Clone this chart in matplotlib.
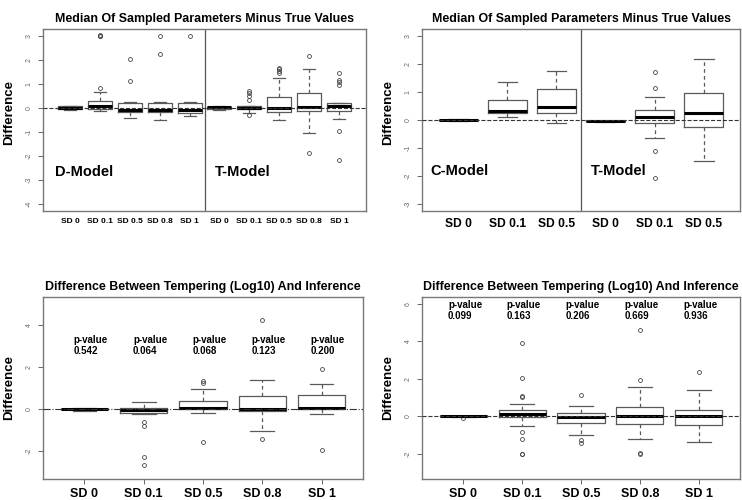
import numpy as np
import matplotlib.pyplot as plt

plt.rcParams['font.family'] = ['Liberation Sans', 'DejaVu Sans']

# -----------------------------
# DATA
# -----------------------------
# top left: D-Model (5 boxes) then T-Model (5 boxes)
p1_labels = ["SD 0", "SD 0.1", "SD 0.5", "SD 0.8", "SD 1"] * 2
p1_q1 = [-0.06, -0.06, -0.17, -0.15, -0.22, -0.03, -0.06, -0.17, -0.11, -0.11]
p1_med = [0.01, 0.08, -0.08, -0.08, -0.08, 0.02, -0.01, 0.01, 0.06, 0.08]
p1_q3 = [0.08, 0.29, 0.22, 0.22, 0.22, 0.05, 0.08, 0.44, 0.64, 0.19]
p1_lo = [-0.08, -0.11, -0.43, -0.50, -0.33, -0.08, -0.19, -0.50, -1.03, -0.46]
p1_hi = [0.10, 0.68, 0.24, 0.26, 0.26, 0.08, 0.10, 1.24, 1.61, 0.22]
p1_out = [[], [0.82, 2.97, 3.0, 3.02], [1.14, 2.03], [2.26, 2.97], [2.97],
          [], [0.33, 0.50, 0.61, 0.72, -0.29], [1.45, 1.55, 1.63, 1.67],
          [2.14, -1.89], [1.47, 1.17, 1.06, 0.94, -0.94, -2.17]]

# top right: C-Model (3 boxes) then T-Model (3 boxes)
p2_labels = ["SD 0", "SD 0.1", "SD 0.5"] * 2
p2_q1 = [-0.01, 0.24, 0.25, -0.05, -0.11, -0.25]
p2_med = [0.0, 0.33, 0.45, -0.04, 0.09, 0.25]
p2_q3 = [0.01, 0.70, 1.09, -0.03, 0.36, 0.97]
p2_lo = [-0.02, 0.11, -0.11, -0.06, -0.64, -1.46]
p2_hi = [0.02, 1.34, 1.74, -0.02, 0.82, 2.16]
p2_out = [[], [], [], [], [1.72, 1.14, -1.09, -2.08], []]

# bottom left
p3_labels = ["SD 0", "SD 0.1", "SD 0.5", "SD 0.8", "SD 1"]
p3_q1 = [-0.02, -0.19, 0.0, -0.09, 0.0]
p3_med = [0.0, -0.03, 0.06, 0.0, 0.06]
p3_q3 = [0.02, 0.03, 0.38, 0.60, 0.66]
p3_lo = [-0.08, -0.22, -0.19, -1.06, -0.22]
p3_hi = [0.03, 0.32, 0.96, 1.36, 1.18]
p3_out = [[], [-0.60, -0.79, -2.26, -2.65], [1.23, 1.31, -1.56], [4.22, -1.41], [1.90, -1.96]]
p3_pvals = ["0.542", "0.064", "0.068", "0.123", "0.200"]

# bottom right
p4_labels = ["SD 0", "SD 0.1", "SD 0.5", "SD 0.8", "SD 1"]
p4_q1 = [-0.02, -0.04, -0.39, -0.43, -0.46]
p4_med = [0.0, 0.09, -0.07, -0.02, -0.02]
p4_q3 = [0.02, 0.30, 0.18, 0.46, 0.30]
p4_lo = [-0.03, -0.52, -1.00, -1.20, -1.41]
p4_hi = [0.03, 0.62, 0.52, 1.55, 1.41]
p4_out = [[-0.08], [3.91, 2.04, 1.07, 1.04, -0.86, -1.20, -2.0, -2.03],
          [1.13, -1.30, -1.46], [4.62, 1.93, -1.95, -2.02], [2.34]]
p4_pvals = ["0.099", "0.163", "0.206", "0.669", "0.936"]

TITLE_TOP = "Median Of Sampled Parameters Minus True Values"
TITLE_BOTTOM = "Difference Between Tempering (Log10) And Inference"

# -----------------------------
# Helpers
# -----------------------------
W, H = 742, 500
GRAY = "#5a5a5a"


def make_stats(q1, med, q3, lo, hi, out):
    return [dict(q1=a, med=b, q3=c, whislo=d, whishi=e, fliers=f)
            for a, b, c, d, e, f in zip(q1, med, q3, lo, hi, out)]


def add_panel(px_box, stats, labels, yrange, yticks, title, xfs, xticks_on, zero_ls="--"):
    left, top, right, bottom = px_box
    ax = fig.add_axes([left / W, 1 - bottom / H, (right - left) / W, (bottom - top) / H])
    n = len(stats)
    ax.bxp(stats, positions=np.arange(1, n + 1), widths=0.8, showfliers=True,
           boxprops=dict(color=GRAY, linewidth=0.9),
           medianprops=dict(color="black", linewidth=2.2),
           whiskerprops=dict(color=GRAY, linewidth=0.9, linestyle=(0, (3, 2.5))),
           capprops=dict(color=GRAY, linewidth=0.9),
           capwidths=0.4,
           flierprops=dict(marker="o", markersize=2.8, markerfacecolor="none",
                           markeredgecolor="#444444", markeredgewidth=0.6))
    # reference line at zero, drawn over the boxes
    ax.axhline(0, color="#333333", linewidth=0.8, linestyle=zero_ls, zorder=5)
    ax.set_xlim(0.5 - 0.04 * n, n + 0.5 + 0.04 * n)
    lo, hi = yrange
    ext = 0.04 * (hi - lo)
    ax.set_ylim(lo - ext, hi + ext)
    ax.set_yticks(yticks)
    ax.set_yticklabels([str(v) for v in yticks], rotation=90, va="center",
                       fontsize=5, color="#666666")
    ax.tick_params(axis="y", length=3.5, width=0.7, color="#666666", pad=4)
    ax.set_xticks(np.arange(1, n + 1))
    ax.set_xticklabels(labels, fontsize=xfs, fontweight="bold")
    if xticks_on:
        ax.tick_params(axis="x", length=3.5, width=0.7, color="#666666", pad=3)
    else:
        ax.tick_params(axis="x", length=0, pad=5)
    for s in ax.spines.values():
        s.set_color("#777777")
        s.set_linewidth(1.0)
    ax.set_title(title, fontsize=8.9, fontweight="bold", pad=5)
    ax.set_ylabel("Difference", fontsize=9.5, fontweight="bold")
    ax.yaxis.set_label_coords(-28 / (right - left), 0.5)
    return ax


fig = plt.figure(figsize=(W / 100, H / 100), dpi=100)

# top left
ax1 = add_panel((43, 29, 366, 211), make_stats(p1_q1, p1_med, p1_q3, p1_lo, p1_hi, p1_out),
                p1_labels, (-4, 3), list(range(-4, 4)), TITLE_TOP, 6, False)
ax1.axvline(5.5, color="#555555", linewidth=0.9)
ax1.text(0.5, -2.65, "D-Model", fontsize=10.5, fontweight="bold", va="center", ha="left")
ax1.text(5.85, -2.65, "T-Model", fontsize=10.5, fontweight="bold", va="center", ha="left")
ax1.yaxis.set_label_coords(-28 / 323, 0.54)

# top right
ax2 = add_panel((422, 29, 740, 211), make_stats(p2_q1, p2_med, p2_q3, p2_lo, p2_hi, p2_out),
                p2_labels, (-3, 3), list(range(-3, 4)), TITLE_TOP, 8.7, False)
ax2.axvline(3.5, color="#555555", linewidth=0.9)
ax2.text(0.43, -1.83, "C-Model", fontsize=10.5, fontweight="bold", va="center", ha="left")
ax2.text(3.71, -1.83, "T-Model", fontsize=10.5, fontweight="bold", va="center", ha="left")
ax2.yaxis.set_label_coords(-28 / 318, 0.54)

# bottom left
ax3 = add_panel((43, 297, 363, 479), make_stats(p3_q1, p3_med, p3_q3, p3_lo, p3_hi, p3_out),
                p3_labels, (-3, 5), [-2, 0, 2, 4], TITLE_BOTTOM, 9, True, zero_ls="-.")
for i, pv in enumerate(p3_pvals):
    ax3.text(i + 1 - 0.18, 3.02, "p-value\n" + pv, fontsize=7, fontweight="bold",
             ha="left", va="center", linespacing=1.05)

# bottom right
ax4 = add_panel((422, 297, 740, 479), make_stats(p4_q1, p4_med, p4_q3, p4_lo, p4_hi, p4_out),
                p4_labels, (-3, 6), [-2, 0, 2, 4, 6], TITLE_BOTTOM, 9, True)
for i, pv in enumerate(p4_pvals):
    ax4.text(i + 1 - 0.26, 5.63, "p-value\n" + pv, fontsize=7, fontweight="bold",
             ha="left", va="center", linespacing=1.05)

fig.savefig("out.png", dpi=100)
